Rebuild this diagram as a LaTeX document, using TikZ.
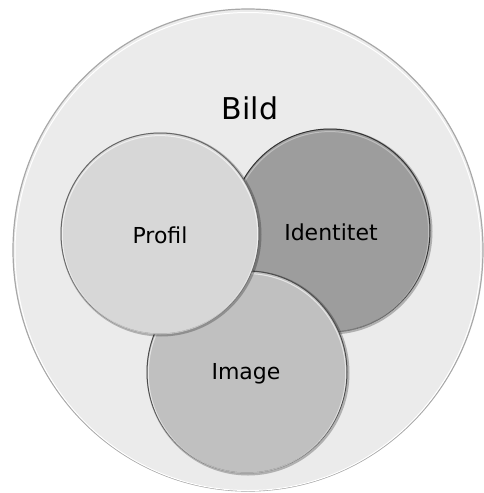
\documentclass[tikz,border=0pt]{standalone}
\usepackage{fontspec}
\setmainfont{DejaVu Sans}
\definecolor{outerfill}{HTML}{EBEBEB}
\definecolor{outeredge}{HTML}{A8A8A8}
\definecolor{profilfill}{HTML}{D7D7D7}
\definecolor{identfill}{HTML}{9D9D9D}
\definecolor{imagefill}{HTML}{C0C0C0}
\begin{document}
\begin{tikzpicture}[x=1pt,y=-1pt,
  shadowring/.style={draw=black, opacity=0.25, line width=3pt},
  circlabel/.style={font=\fontsize{22}{26}\selectfont, text=black},
  biglabel/.style={font=\fontsize{30}{34}\selectfont, text=black}]
\useasboundingbox (0,0) rectangle (483,493);
% outer circle
\fill[outerfill] (248,250) ellipse [x radius=235, y radius=241];
\draw[outeredge, line width=1.2pt] (248,250) ellipse [x radius=235, y radius=241];
\draw[white, line width=1pt] (248,251.5) ellipse [x radius=233, y radius=239];
% Identitet
\draw[shadowring] (331,231.5) ellipse [x radius=100, y radius=101.5];
\fill[identfill] (330,230.5) ellipse [x radius=100, y radius=101.5];
\draw[black!80, line width=1pt] (330,230.5) ellipse [x radius=100, y radius=101.5];
\draw[white, opacity=0.35, line width=1pt] (330,231.8) ellipse [x radius=98.7, y radius=100.2];
% Image
\draw[shadowring] (248,373) ellipse [x radius=100, y radius=101];
\fill[imagefill] (247,372) ellipse [x radius=100, y radius=101];
\draw[black!70, line width=1pt] (247,372) ellipse [x radius=100, y radius=101];
\draw[white, opacity=0.6, line width=1pt] (247,373.3) ellipse [x radius=98.7, y radius=99.7];
% Profil
\draw[shadowring] (161,234.5) ellipse [x radius=99, y radius=100.5];
\fill[profilfill] (160,233.5) ellipse [x radius=99, y radius=100.5];
\draw[black!60, line width=1pt] (160,233.5) ellipse [x radius=99, y radius=100.5];
\draw[white, opacity=0.6, line width=1pt] (160,234.8) ellipse [x radius=97.7, y radius=99.2];
% labels
\node[biglabel] (bild) at (250,108) {Bild};
\node[circlabel] (profil) at (160,235) {Profil};
\node[circlabel] (ident) at (331,232) {Identitet};
\node[circlabel] (image) at (246,374) {Image};
\end{tikzpicture}
\end{document}
